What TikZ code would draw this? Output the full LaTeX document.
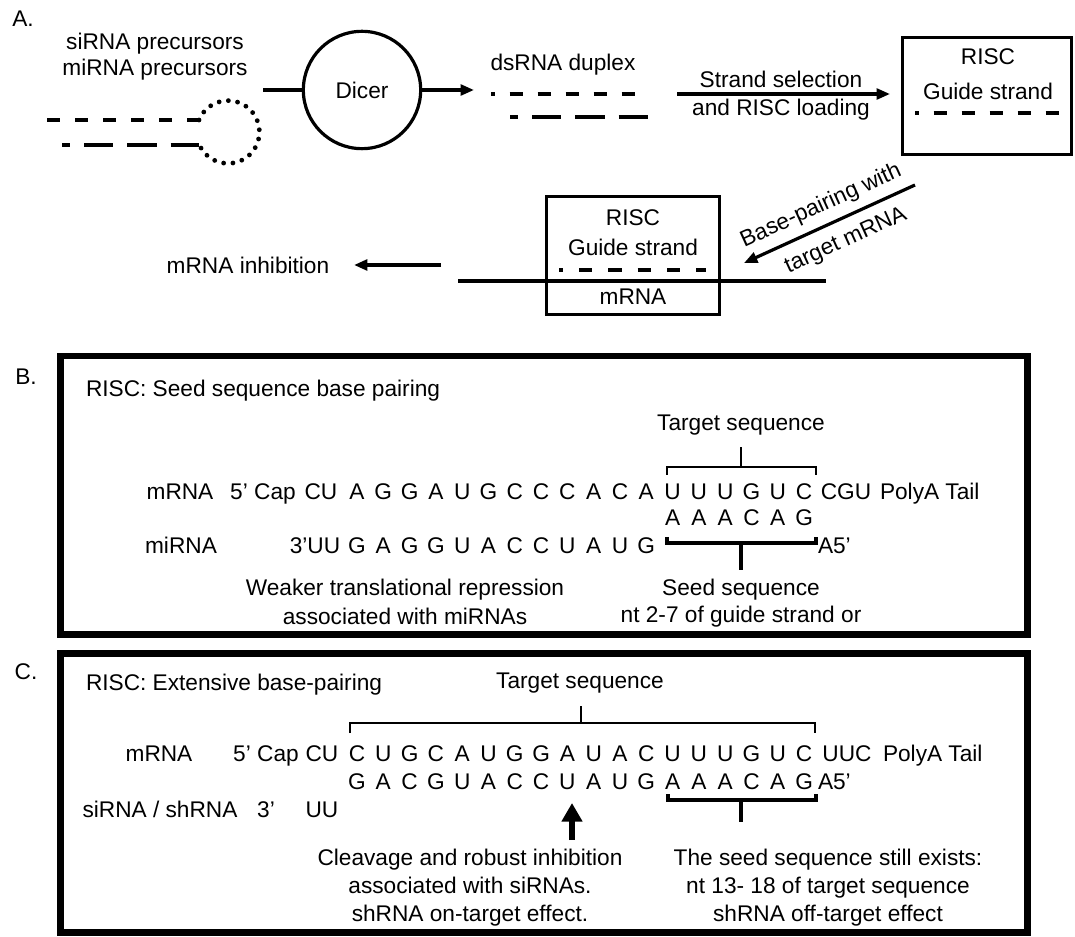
\documentclass[tikz,border=0pt]{standalone}
\usepackage{fontspec}
\setmainfont{Liberation Sans}
\usetikzlibrary{arrows.meta}
\begin{document}
\begin{tikzpicture}[x=0.75pt,y=-0.75pt,
  every node/.style={font=\fontsize{17}{20}\selectfont, inner sep=0pt, outer sep=0pt},
  txt/.style={anchor=base},
  txtw/.style={anchor=base west},
  box/.style={draw, line width=2.4pt},
  panel/.style={draw, line width=4.9pt},
  conn/.style={line width=2.4pt},
  arr/.style={line width=2.4pt, -{Triangle[length=10pt,width=8pt]}},
  dshort/.style={line width=3pt, dash pattern=on 10pt off 11pt},
  dlong/.style={line width=3pt, dash pattern=on 22pt off 10.5pt},
  loopdots/.style={line width=3.6pt, line cap=round, dash pattern=on 0pt off 7pt},
  brk/.style={line width=1.5pt},
  brkb/.style={line width=2.6pt},
]
\useasboundingbox (0,0) rectangle (1075,937);

% ---------------- Panel A: processing pathway ----------------
\node[txt] (labA) at (23,27) {A.};
\node[txt] (pre1) at (155,50) {siRNA precursors};
\node[txt] (pre2) at (155,76) {miRNA precursors};

% hairpin precursor: two strands joined by a dotted loop
\coordinate (hpU0) at (47,120);  \coordinate (hpU1) at (199,120);
\coordinate (hpL0) at (62,145);  \coordinate (hpL1) at (199,145);
\draw[dshort] (hpU0) -- (hpU1);
\draw[dlong, dash phase=16pt] (hpL0) -- (hpL1);
\draw[loopdots] (hpU1) arc[start angle=-157.5, end angle=157.5, radius=31.4];

% Dicer
\node[draw, circle, line width=2.4pt, minimum size=88pt] (dicer) at (362,90) {Dicer};
\coordinate (dIn) at (263,90);
\coordinate (dOut) at (474,90);
\draw[conn] (dIn) -- (dicer.west);
\draw[arr] (dicer.east) -- (dOut);

% dsRNA duplex
\node[txt] (dsl) at (563,71) {dsRNA duplex};
\coordinate (dsU0) at (491,94);  \coordinate (dsU1) at (637,94);
\coordinate (dsL0) at (510,117); \coordinate (dsL1) at (650,117);
\draw[dshort, dash phase=7pt] (dsU0) -- (dsU1);
\draw[dlong, dash phase=16pt] (dsL0) -- (dsL1);

% strand selection
\coordinate (ssA) at (677,94);
\coordinate (ssB) at (890,94);
\draw[arr] (ssA) -- (ssB);
\node[txt] (ss1) at (781,88) {Strand selection};
\node[txt] (ss2) at (781,116) {and RISC loading};

% loaded RISC
\node[box, minimum width=126.75pt, minimum height=87.75pt] (risc1) at (987,96) {};
\node[txt] (r1t) at (988,65) {RISC};
\node[txt] (r1g) at (988,100) {Guide strand};
\coordinate (g1A) at (915,113); \coordinate (g1B) at (1061,113);
\draw[dshort, dash phase=7pt] (g1A) -- (g1B);

% base pairing with target
\coordinate (bpA) at (915,185);
\coordinate (bpB) at (744,263);
\draw[arr] (bpA) -- (bpB);
\node[rotate=24.5] (bp1) at (821,206) {Base-pairing with};
\node[rotate=24.5] (bp2) at (846,241) {target mRNA};

% RISC on mRNA
\node[box, minimum width=129.75pt, minimum height=88.5pt] (risc2) at (633,255.5) {};
\node[txt] (r2t) at (633,226) {RISC};
\node[txt] (r2g) at (633,256) {Guide strand};
\node[txt] (r2m) at (633,305) {mRNA};
\coordinate (g2A) at (559,270); \coordinate (g2B) at (706,270);
\draw[dshort, dash phase=7pt, dash pattern=on 10pt off 12pt] (g2A) -- (g2B);
\coordinate (mrA) at (458,281); \coordinate (mrB) at (826,281);
\draw[line width=3pt] (mrA) -- (mrB);

% inhibition
\node[txt] (inh) at (248,274) {mRNA inhibition};
\coordinate (inA) at (441,265); \coordinate (inB) at (354,265);
\draw[arr, line width=3pt] (inA) -- (inB);

% ---------------- Panel B: seed pairing ----------------
\node[txt] (labB) at (26,385) {B.};
\node[panel, minimum width=725.6pt, minimum height=208.9pt] (pB) at (544,495.5) {};
\node[txtw] (tB) at (86,397) {RISC: Seed sequence base pairing};
\node[txt] (tsB) at (741,431) {Target sequence};

% mRNA strand
\node[txt] (bmL) at (180,500) {mRNA};
\node[txt] (bmCap) at (263,500) {5' Cap};
\node[txt] (bmCU) at (321,500) {CU};
\foreach \l [count=\k from 0] in {A,G,G,A,U,G,C,C,C,A,C,A,U,U,U,G,U,C}
  \node[txt] (bm\k) at ({357+26.3*\k},500) {\l};
\node[txt] (bmCGU) at (846,500) {CGU};
\node[txtw] (bmTail) at (880,500) {PolyA Tail};

% paired seed bases
\foreach \l [count=\k from 12] in {A,A,A,C,A,G}
  \node[txt] (bp\k) at ({357+26.3*\k},526) {\l};

% miRNA strand
\node[txt] (biL) at (181,554) {miRNA};
\node[txt] (bi3) at (315,554) {3'UU};
\foreach \l [count=\k from 0] in {G,A,G,G,U,A,C,C,U,A,U,G}
  \node[txt] (bi\k) at ({357+26.3*\k},554) {\l};
\node[txtw] (bi5) at (818,554) {A5'};

% brackets
\draw[brk] (667,475) -- (667,467) -- (816,467) -- (816,475);
\draw[brk] (741,467) -- (741,447);
\draw[brkb] (667,537) -- (667,543) -- (816,543) -- (816,537);
\draw[brkb] (741,543) -- (741,570);

\node[txt] (bw1) at (405,596) {Weaker translational repression};
\node[txt] (bw2) at (405,624) {associated with miRNAs};
\node[txt] (bs1) at (741,596) {Seed sequence};
\node[txt] (bs2) at (741,623) {nt 2-7 of guide strand or};

% ---------------- Panel C: extensive pairing ----------------
\node[txt] (labC) at (26,680) {C.};
\node[panel, minimum width=725.6pt, minimum height=209.6pt] (pC) at (544,793) {};
\node[txtw] (tC) at (86,691) {RISC: Extensive base-pairing};
\node[txt] (tsC) at (580,688) {Target sequence};

% mRNA strand
\node[txt] (cmL) at (159,761) {mRNA};
\node[txt] (cmCap) at (266,761) {5' Cap};
\node[txt] (cmCU) at (322,761) {CU};
\foreach \l [count=\k from 0] in {C,U,G,C,A,U,G,G,A,U,A,C,U,U,U,G,U,C}
  \node[txt] (cm\k) at ({357+26.3*\k},761) {\l};
\node[txt] (cmUUC) at (847,761) {UUC};
\node[txtw] (cmTail) at (883,761) {PolyA Tail};

% siRNA strand
\foreach \l [count=\k from 0] in {G,A,C,G,U,A,C,C,U,A,U,G,A,A,A,C,A,G}
  \node[txt] (cs\k) at ({357+26.3*\k},789) {\l};
\node[txtw] (cs5) at (818,789) {A5'};
\node[txt] (csL) at (160,817) {siRNA / shRNA};
\node[txt] (cs3) at (266,817) {3'};
\node[txt] (csUU) at (322,817) {UU};

% brackets
\draw[brk] (350,733) -- (350,723) -- (815,723) -- (815,733);
\draw[brk] (581,723) -- (581,706);
\draw[brkb] (668,794) -- (668,800) -- (816,800) -- (816,794);
\draw[brkb] (741,800) -- (741,822);

% cleavage site
\coordinate (cvA) at (572,840);
\coordinate (cvB) at (572,803);
\draw[line width=5pt, -{Triangle[length=14pt,width=15pt]}] (cvA) -- (cvB);

\node[txt] (cl1) at (470,865) {Cleavage and robust inhibition};
\node[txt] (cl2) at (470,893) {associated with siRNAs.};
\node[txt] (cl3) at (470,921) {shRNA on-target effect.};
\node[txt] (sd1) at (828,865) {The seed sequence still exists:};
\node[txt] (sd2) at (828,893) {nt 13- 18 of target sequence};
\node[txt] (sd3) at (828,921) {shRNA off-target effect};
\end{tikzpicture}
\end{document}
